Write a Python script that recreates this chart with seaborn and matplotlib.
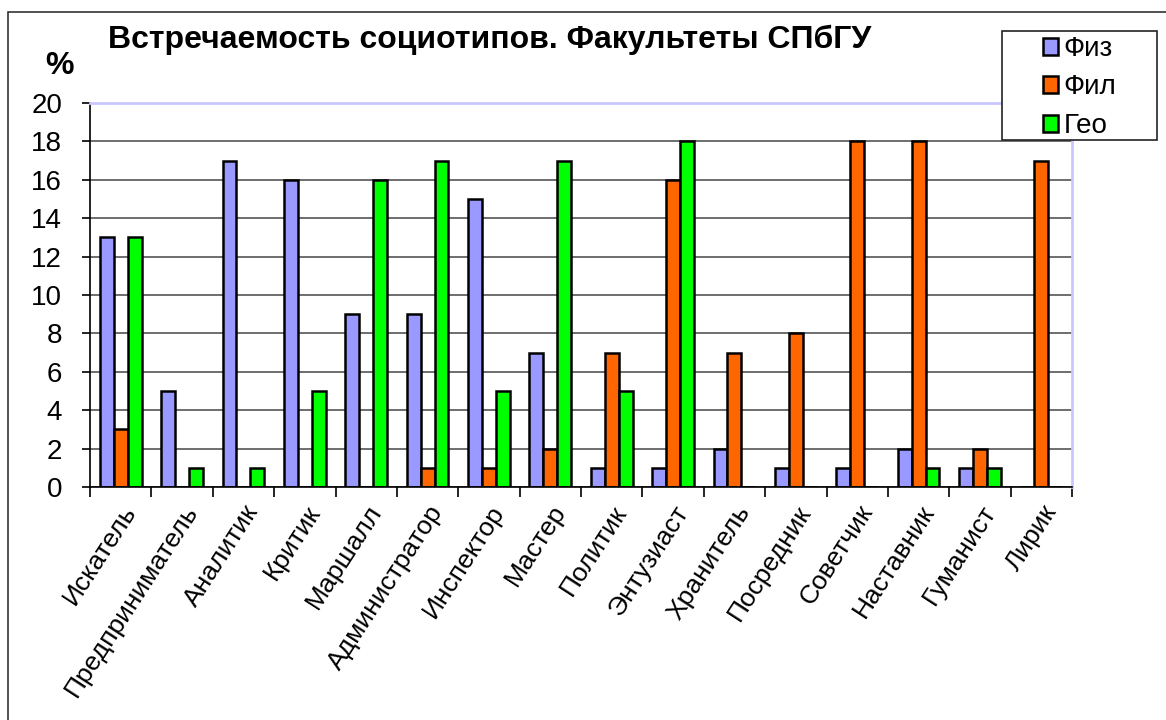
import matplotlib
matplotlib.use("Agg")
import matplotlib.pyplot as plt
import seaborn as sns
import pandas as pd
from matplotlib.patches import Rectangle, Patch

categories = ["Искатель", "Предприниматель", "Аналитик", "Критик", "Маршалл",
              "Администратор", "Инспектор", "Мастер", "Политик", "Энтузиаст",
              "Хранитель", "Посредник", "Советчик", "Наставник", "Гуманист", "Лирик"]
fiz = [13, 5, 17, 16, 9, 9, 15, 7, 1, 1, 2, 1, 1, 2, 1, 0]
fil = [3, 0, 0, 0, 0, 1, 1, 2, 7, 16, 7, 8, 18, 18, 2, 17]
geo = [13, 1, 1, 5, 16, 17, 5, 17, 5, 18, 0, 0, 0, 1, 1, 0]
series_names = ["Физ", "Фил", "Гео"]
colors = ["#9999ff", "#ff6600", "#00ff00"]
title = "Встречаемость социотипов. Факультеты СПбГУ"
yticks = list(range(0, 21, 2))

rows = []
for name, vals in zip(series_names, [fiz, fil, geo]):
    for c, v in zip(categories, vals):
        rows.append({"cat": c, "series": name, "val": v})
df = pd.DataFrame(rows)

sns.set_style("white")
plt.rcParams['font.family'] = ['Liberation Sans', 'DejaVu Sans']
plt.rcParams['text.color'] = 'black'
plt.rcParams['xtick.color'] = 'black'
plt.rcParams['ytick.color'] = 'black'
plt.rcParams['axes.labelcolor'] = 'black'

fig = plt.figure(figsize=(11.66, 7.2), dpi=100)
ax = fig.add_axes([90/1166, 1-487/720, (1072-90)/1166, (487-103)/720])

sns.barplot(data=df, x="cat", y="val", hue="series", hue_order=series_names,
            palette=colors, order=categories, width=0.68, ax=ax,
            edgecolor="black", linewidth=1.8, saturation=1, legend=False)

ax.set_ylim(0, 20)
ax.set_xlim(-0.5, len(categories) - 0.5)
ax.set_yticks(yticks)
ax.set_yticklabels([str(t) for t in yticks], fontsize=20, color="black")
ax.yaxis.grid(True, color="#555555", linewidth=1.2)
ax.set_axisbelow(True)
ax.set_xlabel("")
ax.set_ylabel("")

ax.set_xticks(range(len(categories)))
ax.set_xticklabels(categories, rotation=57, ha="right", rotation_mode="anchor",
                   fontsize=19, color="black")
ax.tick_params(axis="x", length=0, pad=10)
ax.tick_params(axis="y", left=True, length=6, width=1.2, color="black", pad=14)
ax.set_xticks([i - 0.5 for i in range(len(categories) + 1)], minor=True)
ax.tick_params(axis="x", which="minor", bottom=True, length=7, width=1.2, color="black")

for s in ["top", "right"]:
    ax.spines[s].set_color("#c8c8ff")
    ax.spines[s].set_linewidth(2)
ax.spines["left"].set_color("black")
ax.spines["left"].set_linewidth(1.2)
ax.spines["bottom"].set_color("black")
ax.spines["bottom"].set_linewidth(1.2)

# legend
handles = [Patch(facecolor=c, edgecolor="black", linewidth=1.8) for c in colors]
leg = fig.legend(handles, series_names, loc="upper left",
                 bbox_to_anchor=(1043/1166, 1-36/720), fontsize=20,
                 frameon=False, labelcolor="black",
                 handlelength=0.55, handleheight=0.55, handletextpad=0.2,
                 borderpad=0, labelspacing=0.45, borderaxespad=0)
leg.set_zorder(6)
fig.patches.append(Rectangle((1002/1166, 1-140/720), 155/1166, 109/720,
                             transform=fig.transFigure, facecolor="white",
                             edgecolor="#222222", linewidth=1.2, zorder=5))

fig.text(108/1166, 1-40/720, title, fontsize=23, fontweight="bold",
         va="center", ha="left", color="black")
fig.text(60/1166, 1-66/720, "%", fontsize=23, fontweight="bold",
         va="center", ha="center", color="black")

# outer frame
fig.patches.append(Rectangle((8/1166, -0.01), 1.2, 1-12/720 + 0.01,
                             transform=fig.transFigure, fill=False,
                             edgecolor="#333333", linewidth=1.2))

fig.savefig("out.png", dpi=100)
